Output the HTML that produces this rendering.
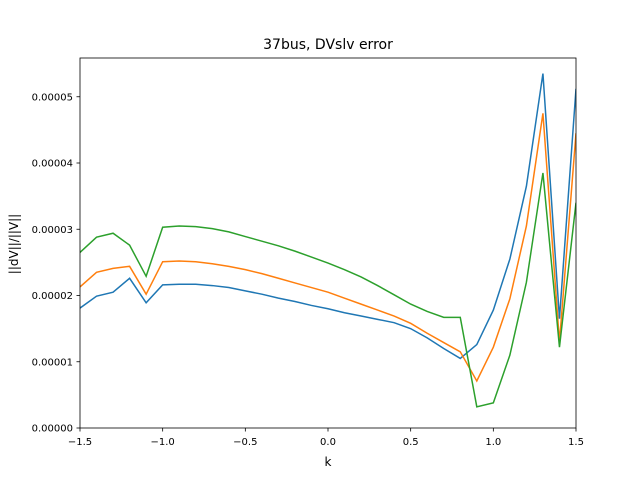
<!DOCTYPE html>
<html><head><meta charset="utf-8"><style>
body{margin:0;background:#fff;font-family:"Liberation Sans","DejaVu Sans",sans-serif}
text{font-family:"DejaVu Sans","Liberation Sans",sans-serif}
</style></head><body>
<svg id="chart" width="640" height="480" xmlns="http://www.w3.org/2000/svg">
<rect width="640" height="480" fill="#fff"/>
<text x="328" y="49" font-size="14" text-anchor="middle">37bus, DVslv error</text>
<text x="328" y="466" font-size="12" text-anchor="middle">k</text>
<text transform="translate(18,244) rotate(-90)" font-size="12" text-anchor="middle">||dV||/||V||</text>
<g id="series"></g>
<g id="axes"></g>
</svg>
<script>
const xs=[-1.5,-1.4,-1.3,-1.2,-1.1,-1.0,-0.9,-0.8,-0.7,-0.6,-0.5,-0.4,-0.3,-0.2,-0.1,0,0.1,0.2,0.3,0.4,0.5,0.6,0.7,0.8,0.9,1.0,1.1,1.2,1.3,1.4,1.5];
const blue=[1.81,1.99,2.05,2.26,1.89,2.16,2.17,2.17,2.15,2.12,2.07,2.02,1.96,1.91,1.85,1.80,1.74,1.69,1.64,1.59,1.50,1.36,1.20,1.05,1.26,1.78,2.55,3.65,5.35,1.65,5.12];
const orange=[2.13,2.35,2.41,2.44,2.02,2.51,2.52,2.51,2.48,2.44,2.39,2.33,2.26,2.19,2.12,2.05,1.96,1.87,1.78,1.69,1.58,1.43,1.29,1.15,0.71,1.22,1.95,3.05,4.75,1.30,4.45];
const green=[2.65,2.88,2.94,2.76,2.29,3.03,3.05,3.04,3.01,2.96,2.89,2.82,2.75,2.67,2.58,2.49,2.39,2.28,2.15,2.01,1.87,1.76,1.67,1.67,0.32,0.38,1.10,2.20,3.85,1.22,3.40];
const yTicks=[0,1,2,3,4,5];
const yTickLabels=["0.00000","0.00001","0.00002","0.00003","0.00004","0.00005"];
const xTicks=[-1.5,-1.0,-0.5,0,0.5,1.0,1.5];
const xTickLabels=["−1.5","−1.0","−0.5","0.0","0.5","1.0","1.5"];
const L=80,R=576,T=58,B=428,ymax=5.585;
const sx=v=>L+(v+1.5)/3*(R-L);
const sy=v=>B-v/ymax*(B-T);
const NS="http://www.w3.org/2000/svg";
const sg=document.getElementById('series');
const ag=document.getElementById('axes');
function mk(t,a,p){const e=document.createElementNS(NS,t);for(const k in a)e.setAttribute(k,a[k]);p.appendChild(e);return e;}
const defs=mk('defs',{},sg);const cp=mk('clipPath',{id:'clip'},defs);mk('rect',{x:L,y:T,width:R-L,height:B-T},cp);
[[blue,'#1f77b4','series-blue'],[orange,'#ff7f0e','series-orange'],[green,'#2ca02c','series-green']].forEach(([d,c,n])=>{
  const p=mk('polyline',{points:d.map((v,i)=>sx(xs[i])+','+sy(v)).join(' '),fill:'none',stroke:c,'stroke-width':1.5,'clip-path':'url(#clip)'},sg);
  
  
});
const fr=mk('rect',{x:L,y:T,width:R-L,height:B-T,fill:'none',stroke:'#000','stroke-width':0.8},ag);


xTicks.forEach((v,i)=>{const x=sx(v);mk('line',{x1:x,x2:x,y1:B,y2:B+3.5,stroke:'#000','stroke-width':0.8},ag);
  const t=mk('text',{x:x,y:B+17,'font-size':10,'text-anchor':'middle'},ag);t.textContent=xTickLabels[i];
  
  });
yTicks.forEach((v,i)=>{const y=sy(v);mk('line',{x1:L-3.5,x2:L,y1:y,y2:y,stroke:'#000','stroke-width':0.8},ag);
  const t=mk('text',{x:L-7,y:y+3.5,'font-size':10,'text-anchor':'end'},ag);t.textContent=yTickLabels[i];
  
  });
</script>
</body></html>
